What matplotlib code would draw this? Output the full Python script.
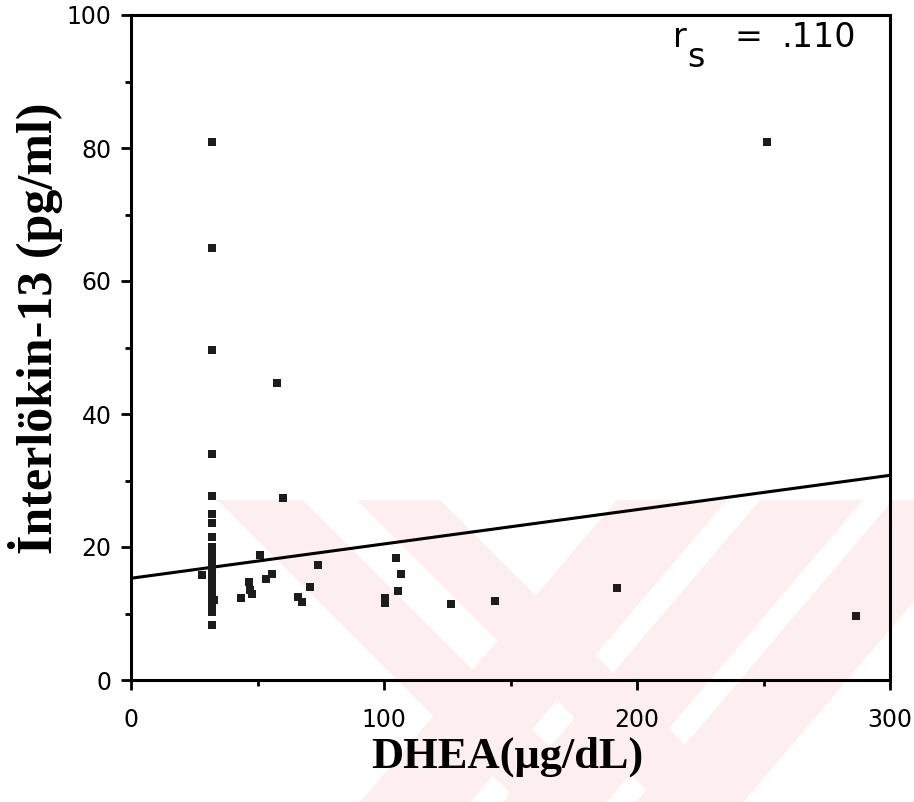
import matplotlib
matplotlib.use("Agg")
import matplotlib.pyplot as plt
from matplotlib.patches import Polygon
import numpy as np

# DHEA (ug/dL) and interleukin-13 (pg/ml) per subject
dhea = [32, 32, 32, 32, 32, 32, 32, 32, 32, 32, 32, 32, 32, 32, 32, 32, 32,
        32, 32, 32, 32, 32, 32, 33,
        28, 43.4, 46.8, 47, 48, 51, 53.4, 55.6, 57.7, 60, 66, 67.5, 70.8, 74,
        100.4, 100.4, 104.7, 106.6, 105.7, 126.4, 143.9, 192, 251.3, 286.6]
il13 = [80.9, 64.9, 49.6, 34.0, 27.6, 25.0, 23.6, 21.5, 20.0, 18.8, 18.0,
        17.2, 16.4, 15.7, 15.0, 14.3, 13.6, 12.9, 12.2, 11.5, 10.8, 10.2, 8.3,
        12.0,
        15.8, 12.3, 14.8, 13.6, 13.0, 18.8, 15.2, 16.0, 44.6, 27.3, 12.5, 11.8,
        14.0, 17.3,
        12.4, 11.6, 18.3, 15.9, 13.4, 11.4, 11.9, 13.9, 80.9, 9.6]

# fitted line
fit_intercept = 15.3
fit_slope = 0.0516
rs_value = ".110"

x_ticks = [0, 100, 200, 300]
y_ticks = [0, 20, 40, 60, 80, 100]

W, H = 914, 802
fig = plt.figure(figsize=(W / 100, H / 100), dpi=100)
fig.patch.set_facecolor("white")


def fx(px):
    return px / W


def fy(py):
    return 1 - py / H


# faint striped emblem in the page background
pink = "#fdeef0"
top, bottom = 500, 802
depth = bottom - top
back_bands = [(217, 303), (357, 440)]              # leaning "\"
fwd_bands = [(617, 727), (760, 863), (893, 1000)]  # leaning "/"
for a, b in back_bands:
    pts = [(a, top), (b, top), (b + depth, bottom), (a + depth, bottom)]
    fig.patches.append(Polygon([(fx(x), fy(y)) for x, y in pts], closed=True,
                               facecolor=pink, edgecolor="none",
                               transform=fig.transFigure, zorder=-5))
for a, b in fwd_bands:
    s = 0.85 * depth
    pts = [(a, top), (b, top), (b - s, bottom), (a - s, bottom)]
    fig.patches.append(Polygon([(fx(x), fy(y)) for x, y in pts], closed=True,
                               facecolor=pink, edgecolor="none",
                               transform=fig.transFigure, zorder=-5))

left, right, ax_top, ax_bot = 131, 890, 15, 680
ax = fig.add_axes([fx(left), fy(ax_bot), (right - left) / W,
                   (ax_bot - ax_top) / H], zorder=1)
ax.set_facecolor("none")

ax.set_xlim(0, 300)
ax.set_ylim(0, 100)

ax.scatter(dhea, il13, marker="s", s=36, color="#1c1c1c", linewidths=0,
           zorder=3)

xl = np.array([0, 300])
ax.plot(xl, fit_intercept + fit_slope * xl, color="black", lw=2.2, zorder=2)

for sp in ax.spines.values():
    sp.set_linewidth(2.2)
    sp.set_color("black")

ax.set_xticks(x_ticks)
ax.set_xticks([50, 150, 250], minor=True)
ax.set_yticks(y_ticks)
ax.set_yticks([10, 30, 50, 70, 90], minor=True)
ax.tick_params(axis="both", which="major", direction="out", length=7,
               width=2, labelsize=17, colors="black")
ax.tick_params(axis="both", which="minor", direction="out", length=4,
               width=2)
ax.tick_params(axis="y", which="major", pad=7)
ax.tick_params(axis="x", which="major", pad=13)
ax.tick_params(top=False, right=False, which="both")


def ax_px(px, py):
    return (px - left) / (right - left), (ax_bot - py) / (ax_bot - ax_top)


# Spearman coefficient annotation
for px, py, txt in [(673, 47, "r"), (687, 67, "s"), (734, 47, "="),
                    (781, 47, rs_value)]:
    ax.text(*ax_px(px, py), txt, transform=ax.transAxes, fontsize=24,
            ha="left", va="baseline", family="DejaVu Sans")

fig.text(fx(507), fy(757), "DHEA(\u03bcg/dL)", fontsize=32,
         family="Liberation Serif", weight="bold", ha="center", va="center")
fig.text(fx(36), fy(328), "\u0130nterl\u00f6kin-13 (pg/ml)", fontsize=36,
         family="Liberation Serif", weight="bold", ha="center", va="center",
         rotation=90)

fig.savefig("out.png", dpi=100)
